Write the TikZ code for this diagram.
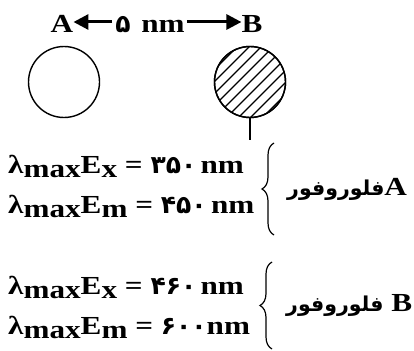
\documentclass[tikz,border=0pt]{standalone}
\usepackage{fontspec}
\setmainfont{Liberation Serif}[FakeStretch=1.2]
\newfontfamily\arabicfont[Script=Arabic]{DejaVu Sans Bold}
\newfontfamily\digitfont{DejaVu Sans}
\TeXXeTstate=1
\usetikzlibrary{arrows.meta,decorations.pathreplacing,calc}
\newcommand\lsub[1]{\raisebox{-4pt}{#1}}
\newcommand\pd[1]{{\digitfont\fontsize{25}{25}\selectfont #1}}
\newcommand\fa{{\arabicfont\fontsize{20.5}{20.5}\selectfont\beginR فلوروفور\endR}}
\tikzset{
  txt/.style={font=\fontsize{26}{26}\selectfont\bfseries, inner sep=0pt},
  eq/.style={txt, anchor=base west},
  circ/.style={draw, line width=1.4pt, circle, minimum size=71pt, inner sep=0pt},
  brc/.style={decorate, decoration={brace, mirror, amplitude=12pt}, line width=1.2pt},
  arr/.style={line width=3pt, -{Triangle[length=15pt,width=15pt]}}
}
\begin{document}
\begin{tikzpicture}[x=1pt,y=-1pt]
\useasboundingbox (0,0) rectangle (414,350);
% top row
\node[txt, anchor=base] (lA) at (62,33) {A};
\node[txt, anchor=base] (five) at (123,33) {\pd{۵}};
\node[txt, anchor=base] (nm) at (163,33) {nm};
\node[txt, anchor=base] (lB) at (252,33) {B};
\draw[arr] (five.west |- 0,22) ++(-3,0) coordinate (s1) -- (lA.east |- 0,22);
\draw[arr] (nm.east |- 0,22) ++(2,0) coordinate (s2) -- (lB.west |- 0,22);
% circles
\node[circ] (cA) at (64,82) {};
\node[circ] (cB) at (250,82) {};
\begin{scope}
  \clip (cB.center) circle (35.5pt);
  \foreach \d in {-60,-48,...,60} {
    \draw[line width=1.2pt] ($(cB.center)+(\d-40,40)$) -- ++(80,-80);
  }
\end{scope}
\node[circ] at (cB.center) {};
\coordinate (tail) at (250,140);
\draw[line width=1.4pt] (cB.south) -- (tail);
% block A
\node[eq] (a1) at (8,173) {λ\lsub{max}E\lsub{x} = \pd{۳۵۰}\,nm};
\node[eq] (a2) at (8,213) {λ\lsub{max}E\lsub{m} = \pd{۴۵۰}\,nm};
\coordinate (ba1) at (274,143);
\coordinate (ba2) at (274,235);
\draw[brc] (ba1) -- (ba2);
\node[txt, anchor=west] (fa) at (287,189) {\fa A};
% block B
\node[eq] (b1) at (8,294) {λ\lsub{max}E\lsub{x} = \pd{۴۶۰}\,nm};
\node[eq] (b2) at (8,334) {λ\lsub{max}E\lsub{m} = \pd{۶۰۰}nm};
\coordinate (bb1) at (272,262);
\coordinate (bb2) at (272,349);
\draw[brc] (bb1) -- (bb2);
\node[txt, anchor=west] (fb) at (286,305) {\fa{} B};
\end{tikzpicture}
\end{document}
